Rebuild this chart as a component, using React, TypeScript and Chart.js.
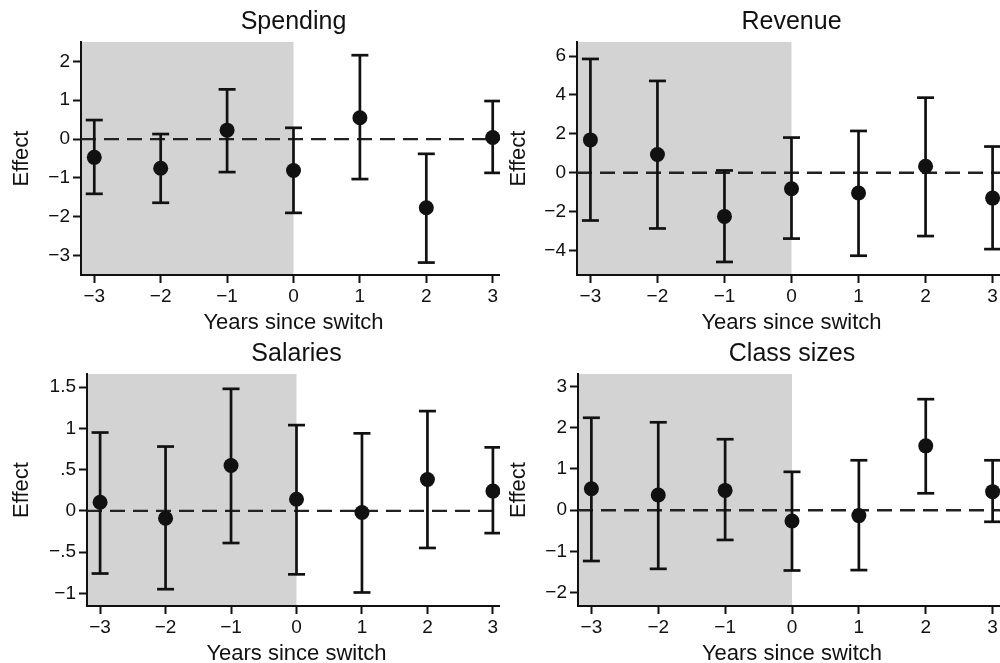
import React, { useEffect, useRef } from "react";
import { Chart, registerables } from "chart.js";

Chart.register(...registerables);

// ---------- data ----------
const years = [-3, -2, -1, 0, 1, 2, 3];
const xTickValues = [-3, -2, -1, 0, 1, 2, 3];
const xTickLabels = ["−3", "−2", "−1", "0", "1", "2", "3"];
const shadeUntil = 0;

const spendingEst = [-0.47, -0.75, 0.23, -0.81, 0.55, -1.77, 0.04];
const spendingHi = [0.49, 0.13, 1.28, 0.29, 2.16, -0.38, 0.98];
const spendingLo = [-1.41, -1.64, -0.85, -1.9, -1.03, -3.18, -0.87];
const spendingTicks = [-3, -2, -1, 0, 1, 2];
const spendingTickLabels = ["−3", "−2", "−1", "0", "1", "2"];

const revenueEst = [1.69, 0.94, -2.24, -0.82, -1.04, 0.34, -1.3];
const revenueHi = [5.85, 4.72, 0.12, 1.81, 2.15, 3.86, 1.35];
const revenueLo = [-2.45, -2.86, -4.58, -3.38, -4.26, -3.25, -3.92];
const revenueTicks = [-4, -2, 0, 2, 4, 6];
const revenueTickLabels = ["−4", "−2", "0", "2", "4", "6"];

const salariesEst = [0.105, -0.09, 0.55, 0.14, -0.02, 0.38, 0.24];
const salariesHi = [0.95, 0.78, 1.48, 1.04, 0.94, 1.21, 0.77];
const salariesLo = [-0.76, -0.95, -0.39, -0.77, -0.99, -0.45, -0.27];
const salariesTicks = [-1, -0.5, 0, 0.5, 1, 1.5];
const salariesTickLabels = ["−1", "−.5", "0", ".5", "1", "1.5"];

const classEst = [0.52, 0.37, 0.48, -0.26, -0.13, 1.56, 0.45];
const classHi = [2.24, 2.13, 1.72, 0.93, 1.21, 2.69, 1.21];
const classLo = [-1.23, -1.42, -0.72, -1.46, -1.45, 0.41, -0.28];
const classTicks = [-2, -1, 0, 1, 2, 3];
const classTickLabels = ["−2", "−1", "0", "1", "2", "3"];

const titles = ["Spending", "Revenue", "Salaries", "Class sizes"];
const xTitle = "Years since switch";
const yTitle = "Effect";

// ---------- layout / style ----------
const FONT = "'Liberation Sans', Arial, Helvetica, sans-serif";
const INK = "#111111";
const X_MIN = -3.2;
const X_MAX = 3.2;

type PanelCfg = {
  title: string;
  est: number[];
  lo: number[];
  hi: number[];
  yTicks: number[];
  yLabels: string[];
  yMin: number;
  yMax: number;
  axisW: number;
  ppu: number;
  effectPad: number;
  left: number;
  top: number;
  height: number;
};

const panels: PanelCfg[] = [
  { title: titles[0], est: spendingEst, lo: spendingLo, hi: spendingHi, yTicks: spendingTicks, yLabels: spendingTickLabels, yMin: -3.5, yMax: 2.5, axisW: 81, ppu: 66.4, effectPad: 9, left: 0, top: 0, height: 332 },
  { title: titles[1], est: revenueEst, lo: revenueLo, hi: revenueHi, yTicks: revenueTicks, yLabels: revenueTickLabels, yMin: -5.25, yMax: 6.72, axisW: 77, ppu: 67.05, effectPad: 6, left: 500, top: 0, height: 332 },
  { title: titles[2], est: salariesEst, lo: salariesLo, hi: salariesHi, yTicks: salariesTicks, yLabels: salariesTickLabels, yMin: -1.154, yMax: 1.66, axisW: 87, ppu: 65.45, effectPad: 8.5, left: 0, top: 332, height: 331 },
  { title: titles[3], est: classEst, lo: classLo, hi: classHi, yTicks: classTicks, yLabels: classTickLabels, yMin: -2.32, yMax: 3.3, axisW: 78, ppu: 66.9, effectPad: 6, left: 500, top: 332, height: 331 },
];

const shadePlugin = {
  id: "shade",
  beforeDraw(chart: any) {
    const { ctx, chartArea, scales } = chart;
    const x = scales.x;
    const xr = x.getPixelForValue(shadeUntil);
    ctx.save();
    ctx.fillStyle = "#d3d3d3";
    ctx.fillRect(chartArea.left, chartArea.top, xr - chartArea.left, chartArea.bottom - chartArea.top);
    ctx.restore();
  },
};

function Panel({ cfg }: { cfg: PanelCfg }) {
  const ref = useRef<HTMLCanvasElement | null>(null);
  const width = Math.round(2 * cfg.axisW + (X_MAX - X_MIN) * cfg.ppu);

  useEffect(() => {
    if (!ref.current) return;
    const dots = years.map((x, i) => ({ x, y: cfg.est[i] }));
    const caps: any[] = [];
    years.forEach((x, i) => {
      caps.push({ x, y: cfg.lo[i] }, { x, y: cfg.hi[i] });
    });
    const whiskers: any[] = [];
    years.forEach((x, i) => {
      whiskers.push({ x, y: cfg.lo[i] }, { x, y: cfg.hi[i] }, { x, y: null });
    });
    const zero = [
      { x: X_MIN, y: 0 },
      { x: X_MAX, y: 0 },
    ];

    const chart = new Chart(ref.current, {
      type: "scatter",
      data: {
        datasets: [
          { type: "scatter", data: dots, pointRadius: 7.5, pointBackgroundColor: INK, pointBorderWidth: 0, pointHoverRadius: 7.5 } as any,
          { type: "scatter", data: caps, pointStyle: "line", pointRadius: 8.5, pointBorderColor: INK, pointBorderWidth: 2.7, pointHoverRadius: 8.5 } as any,
          { type: "line", data: whiskers, borderColor: INK, borderWidth: 2.7, pointRadius: 0, spanGaps: false, fill: false } as any,
          { type: "line", data: zero, borderColor: "#222222", borderWidth: 2.4, borderDash: [15, 8], pointRadius: 0, fill: false } as any,
        ],
      },
      options: {
        animation: false,
        responsive: false,
        devicePixelRatio: 1,
        events: [],
        layout: { padding: 0 },
        plugins: {
          legend: { display: false },
          tooltip: { enabled: false },
          title: {
            display: true,
            text: cfg.title,
            color: INK,
            font: { family: FONT, size: 25, weight: "normal", lineHeight: 1 },
            padding: { top: 10, bottom: 7 },
          },
        },
        scales: {
          x: {
            type: "linear",
            min: X_MIN,
            max: X_MAX,
            afterBuildTicks: (s: any) => {
              s.ticks = xTickValues.map((v) => ({ value: v }));
            },
            afterFit: (s: any) => {
              s.height = 57;
            },
            ticks: {
              autoSkip: false,
              maxRotation: 0,
              color: INK,
              padding: 2,
              font: { family: FONT, size: 19 },
              callback: (_v: any, i: number) => xTickLabels[i],
            },
            grid: { display: true, drawOnChartArea: false, drawTicks: true, tickLength: 8, tickWidth: 2, tickColor: INK },
            border: { display: true, color: INK, width: 2 },
            title: {
              display: true,
              text: xTitle,
              color: INK,
              font: { family: FONT, size: 22, lineHeight: 0.8 },
              padding: 0,
            },
          },
          y: {
            type: "linear",
            position: "left",
            min: cfg.yMin,
            max: cfg.yMax,
            afterBuildTicks: (s: any) => {
              s.ticks = cfg.yTicks.map((v) => ({ value: v }));
            },
            afterFit: (s: any) => {
              s.width = cfg.axisW;
            },
            ticks: {
              autoSkip: false,
              color: INK,
              padding: 3,
              font: { family: FONT, size: 19 },
              callback: (_v: any, i: number) => cfg.yLabels[i],
            },
            grid: { display: true, drawOnChartArea: false, drawTicks: true, tickLength: 8, tickWidth: 2, tickColor: INK },
            border: { display: true, color: INK, width: 2 },
            title: {
              display: true,
              text: yTitle,
              color: INK,
              font: { family: FONT, size: 22, lineHeight: 1.2 },
              padding: { top: cfg.effectPad, bottom: 0 },
            },
          },
          yRight: {
            type: "linear",
            position: "right",
            min: cfg.yMin,
            max: cfg.yMax,
            afterFit: (s: any) => {
              s.width = cfg.axisW;
            },
            ticks: { display: false },
            grid: { display: false },
            border: { display: false },
            title: { display: false },
          },
        },
      } as any,
      plugins: [shadePlugin],
    });
    return () => chart.destroy();
  }, [cfg]);

  return (
    <div
      style={{
        position: "absolute",
        left: cfg.left,
        top: cfg.top,
        width: 500,
        height: cfg.height,
        overflow: "hidden",
      }}
    >
      <canvas ref={ref} width={width} height={cfg.height} style={{ display: "block", width, height: cfg.height }} />
    </div>
  );
}

export default function App() {
  return (
    <div style={{ position: "absolute", left: 0, top: 0, width: 1000, height: 663, background: "#ffffff", overflow: "hidden" }}>
      {panels.map((p) => (
        <Panel key={p.title} cfg={p} />
      ))}
    </div>
  );
}
